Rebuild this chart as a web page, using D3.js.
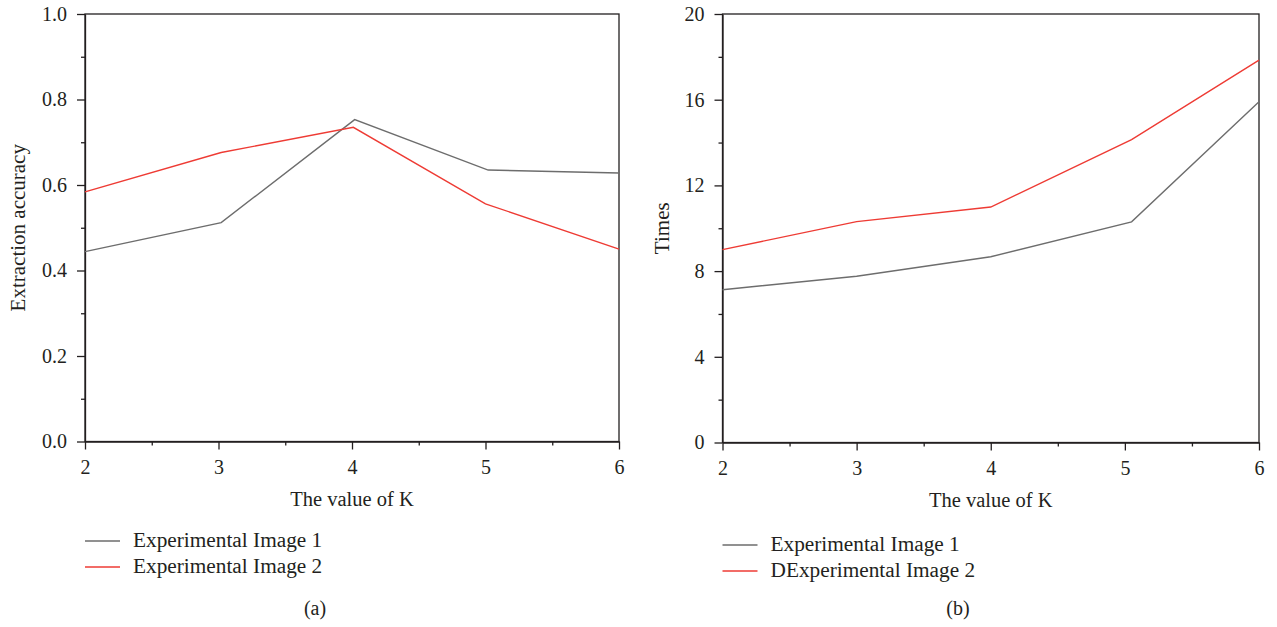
<!DOCTYPE html>
<html>
<head>
<meta charset="utf-8">
<script src="https://d3js.org/d3.v7.min.js"></script>
<style>
  body { margin: 0; background: #fff; }
  svg text { font-family: "Liberation Serif", "DejaVu Serif", serif; fill: #231f20; }
</style>
</head>
<body>
<div id="chart-area"></div>
<script>
  // K values (x positions)
  var kTicks = [2, 3, 4, 5, 6];
  var accKGray = [2, 3.02, 4.02, 5.02, 6];
  var accKRed = [2, 3.02, 4.01, 5, 6];
  var timeK = [2, 3, 4, 5.05, 6];

  // (a) Extraction accuracy
  var accImage1 = [0.444, 0.512, 0.753, 0.635, 0.628];
  var accImage2 = [0.584, 0.676, 0.735, 0.556, 0.450];
  var accTicks = [0.0, 0.2, 0.4, 0.6, 0.8, 1.0];

  // (b) Times
  var timeImage1 = [7.13, 7.76, 8.67, 10.3, 15.9];
  var timeImage2 = [9.0, 10.31, 10.99, 14.14, 17.85];
  var timeTicks = [0, 4, 8, 12, 16, 20];

  var legendNamesA = ['Experimental Image 1', 'Experimental Image 2'];
  var legendNamesB = ['Experimental Image 1', 'DExperimental Image 2'];
  var colors = ['#6d6d6d', '#ee3b34'];

  var svg = d3.select('#chart-area')
    .append('svg')
    .attr('width', 1277)
    .attr('height', 627);

  function create_panel(opt) {
    var g = svg.append('g');
    var x = d3.scaleLinear().domain([2, 6]).range([opt.left, opt.right]);
    var y = d3.scaleLinear().domain([0, opt.yMax]).range([opt.bottom, opt.top]);

    // minor ticks
    var minorX = d3.range(2.5, 6, 1);
    var minorY = opt.yTicks.slice(0, -1).map(function (d, i) { return (d + opt.yTicks[i + 1]) / 2; });
    g.append('g')
      .attr('transform', 'translate(0,' + opt.bottom + ')')
      .call(d3.axisBottom(x).tickValues(minorX).tickSize(4).tickFormat(''))
      .call(function (a) { a.select('.domain').remove(); });
    g.append('g')
      .attr('transform', 'translate(' + opt.left + ',0)')
      .call(d3.axisLeft(y).tickValues(minorY).tickSize(4).tickFormat(''))
      .call(function (a) { a.select('.domain').remove(); });

    // major axes
    var xAxis = g.append('g')
      .attr('transform', 'translate(0,' + opt.bottom + ')')
      .call(d3.axisBottom(x).tickValues(kTicks).tickSize(8).tickPadding(10).tickSizeOuter(0).tickFormat(d3.format('d')));
    var yAxis = g.append('g')
      .attr('transform', 'translate(' + opt.left + ',0)')
      .call(d3.axisLeft(y).tickValues(opt.yTicks).tickSize(8).tickPadding(10).tickSizeOuter(0).tickFormat(opt.fmt));
    [xAxis, yAxis].forEach(function (a) {
      a.selectAll('text').attr('font-size', '20px').style('font-family', '"Liberation Serif", serif').attr('fill', '#231f20');
      a.selectAll('line, path').attr('stroke', '#231f20').attr('stroke-width', 1.3);
    });
    g.selectAll('.tick line').attr('stroke', '#231f20').attr('stroke-width', 1.3);

    // frame
    g.append('rect')
      .attr('x', opt.left).attr('y', opt.top)
      .attr('width', opt.right - opt.left).attr('height', opt.bottom - opt.top)
      .attr('fill', 'none').attr('stroke', '#231f20').attr('stroke-width', 1.3);

    // lines
    var line = d3.line()
      .x(function (d) { return x(d[0]); })
      .y(function (d) { return y(d[1]); });
    opt.series.forEach(function (s, i) {
      g.append('path')
        .attr('fill', 'none')
        .attr('stroke', colors[i])
        .attr('stroke-width', 1.4)
        .attr('d', line(d3.zip(s.k, s.v)));
    });

    // labels
    g.append('text')
      .attr('x', (opt.left + opt.right) / 2)
      .attr('y', opt.bottom + 64)
      .attr('font-size', '20.5px')
      .attr('text-anchor', 'middle')
      .text('The value of K');
    g.append('text')
      .attr('transform', 'translate(' + opt.yLabelX + ',' + ((opt.top + opt.bottom) / 2) + ') rotate(-90)')
      .attr('font-size', '21px')
      .attr('text-anchor', 'middle')
      .text(opt.yLabel);

    // legend
    opt.legend.forEach(function (name, i) {
      var ly = opt.legendY + i * 26;
      g.append('line')
        .attr('x1', opt.left).attr('x2', opt.left + 35)
        .attr('y1', ly).attr('y2', ly)
        .attr('stroke', colors[i]).attr('stroke-width', 1.4);
      g.append('text')
        .attr('x', opt.left + 48)
        .attr('y', ly + 6)
        .attr('font-size', '21.3px')
        .text(name);
    });

    g.append('text')
      .attr('x', opt.captionX)
      .attr('y', 615)
      .attr('font-size', '20px')
      .attr('text-anchor', 'middle')
      .text(opt.caption);
  }

  create_panel({
    left: 85, right: 619, top: 14, bottom: 441.5,
    yMax: 1, yTicks: accTicks, fmt: d3.format('.1f'),
    yLabel: 'Extraction accuracy', yLabelX: 25,
    series: [{ k: accKGray, v: accImage1 }, { k: accKRed, v: accImage2 }],
    legend: legendNamesA, legendY: 541,
    caption: '(a)', captionX: 315
  });

  create_panel({
    left: 722.5, right: 1259, top: 14, bottom: 442.5,
    yMax: 20, yTicks: timeTicks, fmt: d3.format('d'),
    yLabel: 'Times', yLabelX: 669,
    series: [{ k: timeK, v: timeImage1 }, { k: timeK, v: timeImage2 }],
    legend: legendNamesB, legendY: 545,
    caption: '(b)', captionX: 958
  });
</script>
</body>
</html>
